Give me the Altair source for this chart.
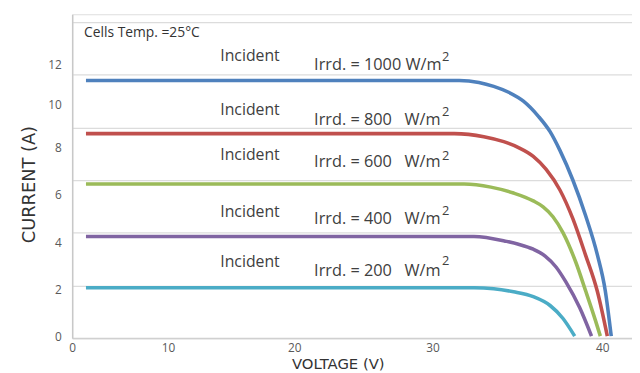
import altair as alt
import pandas as pd

# ---- data (voltage V, current A) ----
series_names = ["1000", "800", "600", "400", "200"]
colors = ["#4F81BD", "#C0504D", "#9BBB59", "#8064A2", "#4BACC6"]

v_1000 = [1.44, 31.57, 32.73, 33.60, 34.48, 35.35, 36.22, 36.92, 37.50, 38.26, 39.01, 39.71, 40.17, 40.52]
i_1000 = [11.2, 11.2, 11.1, 10.9, 10.6, 10.15, 9.45, 8.73, 7.88, 6.63, 5.13, 3.46, 1.96, 0.0]

v_800 = [1.44, 31.28, 33.02, 34.19, 35.06, 35.93, 36.69, 37.50, 38.26, 39.01, 39.71, 40.29]
i_800 = [8.64, 8.64, 8.5, 8.27, 8.0, 7.63, 7.08, 6.21, 5.0, 3.46, 1.91, 0.0]

v_600 = [1.44, 31.86, 33.43, 34.77, 35.93, 36.51, 37.09, 37.67, 38.43, 39.01, 39.59, 39.88]
i_600 = [6.46, 6.46, 6.33, 6.08, 5.75, 5.5, 5.08, 4.42, 3.17, 1.96, 0.68, 0.0]

v_400 = [1.44, 32.44, 34.36, 35.06, 35.93, 36.63, 37.27, 37.85, 38.66, 39.36]
i_400 = [4.25, 4.25, 4.04, 3.92, 3.71, 3.42, 2.96, 2.33, 1.23, 0.0]

v_200 = [1.44, 32.44, 33.60, 34.77, 35.93, 36.92, 37.67, 38.37]
i_200 = [2.08, 2.08, 2.04, 1.91, 1.70, 1.32, 0.77, 0.0]

x_ticks = [0, 10, 20, 30, 40]
y_ticks = [0, 2, 4, 6, 8, 10, 12]

# annotation texts (anchored in data units)
incident_text = "Incident"
incident_x = 14.14
incident_y = [12.43, 9.73, 7.67, 5.29, 3.17]

irrd_text = ["Irrd. = 1000 W/m", "Irrd. = 800\u00a0\u00a0\u00a0W/m", "Irrd. = 600\u00a0\u00a0\u00a0W/m",
             "Irrd. = 400\u00a0\u00a0\u00a0W/m", "Irrd. = 200\u00a0\u00a0\u00a0W/m"]
irrd_x = 21.43
irrd_y = [12.0, 9.27, 7.38, 5.0, 2.79]

sup_x = 30.55
sup_y = [12.38, 9.62, 7.66, 5.32, 3.2]

temp_text = "Cells Temp. =25°C"
temp_x = 1.24
temp_y = 13.56

grid_levels = [0, 1, 2, 3, 4, 5, 6]

# ---- tables ----
rows = []
for name, vs, cs in [("1000", v_1000, i_1000), ("800", v_800, i_800), ("600", v_600, i_600),
                     ("400", v_400, i_400), ("200", v_200, i_200)]:
    for v, c in zip(vs, cs):
        rows.append({"series": name, "V": v, "I": c})
df = pd.DataFrame(rows)

df_inc = pd.DataFrame({"x": [incident_x] * 5, "y": incident_y, "t": [incident_text] * 5})
df_irr = pd.DataFrame({"x": [irrd_x] * 5, "y": irrd_y, "t": irrd_text})
df_sup = pd.DataFrame({"x": [sup_x] * 5, "y": sup_y, "t": ["2"] * 5})
df_temp = pd.DataFrame({"x": [temp_x], "y": [temp_y], "t": [temp_text]})
df_grid = pd.DataFrame({"g": grid_levels})

W, H = 567, 328

x_scale = alt.Scale(domain=[0, 10, 20, 30, 40, 41.74], range=[0, 97, 225, 365, 537, W],
                    nice=False, zero=False)
y_scale = alt.Scale(domain=[-0.085, 0, 2, 4, 6, 8, 10, 12, 14.5],
                    range=[H, 326, 279, 231, 183, 135, 91, 51, 0], nice=False, zero=False)

lines = alt.Chart(df).mark_line(strokeWidth=3.6, interpolate="monotone").encode(
    x=alt.X("V:Q", scale=x_scale,
            axis=alt.Axis(values=x_ticks, title="VOLTAGE (V)", grid=False, ticks=False,
                          domainColor="#d0d0d0", domainWidth=1.5, labelFlush=False,
                          labelFont="Liberation Sans Narrow, Open Sans", labelFontSize=12,
                          labelColor="#595959", labelPadding=5,
                          titleFont="DejaVu Sans", titleFontSize=15, titleFontWeight="normal",
                          titleColor="#333333", titleX=269, titleY=26, titleBaseline="middle")),
    y=alt.Y("I:Q", scale=y_scale,
            axis=alt.Axis(values=y_ticks, title="CURRENT (A)", grid=False, ticks=False,
                          domainColor="#c8c8c8", domainWidth=1.5,
                          labelFont="Open Sans", labelFontSize=12, labelColor="#595959",
                          labelPadding=11,
                          titleFont="DejaVu Sans", titleFontSize=18, titleFontWeight="normal",
                          titleColor="#333333", titleX=-43, titleY=172, titleBaseline="middle")),
    color=alt.Color("series:N", scale=alt.Scale(domain=series_names, range=colors), legend=None),
    detail="series:N",
)

grid = alt.Chart(df_grid).mark_point(opacity=0).encode(
    y=alt.Y("g:Q", scale=alt.Scale(domain=[0, 6.15], range=[H, 0], nice=False, zero=False),
            axis=alt.Axis(orient="right", values=grid_levels, grid=True, gridColor="#dcdcdc",
                          gridWidth=1.3, labels=False, ticks=False, domain=False, title=None)),
)


def text_layer(d, size, color="#404040", align="left"):
    return alt.Chart(d).mark_text(align=align, baseline="middle", font="Open Sans",
                                  fontSize=size, color=color).encode(
        x=alt.X("x:Q", scale=x_scale, axis=None),
        y=alt.Y("y:Q", scale=y_scale, axis=None),
        text="t:N",
    )


chart = alt.layer(
    grid,
    lines,
    text_layer(df_inc, 16),
    text_layer(df_irr, 16.5),
    text_layer(df_sup, 13),
    text_layer(df_temp, 14, color="#333333"),
).resolve_scale(y="independent").resolve_axis(x="independent").properties(
    width=W, height=H,
    autosize=alt.AutoSizeParams(type="none"),
    padding={"left": 65, "top": 4, "right": 0, "bottom": 33},
).configure_view(stroke=None).configure(background="white")

chart.save("out.html", embed_options={"renderer": "svg", "actions": False})
